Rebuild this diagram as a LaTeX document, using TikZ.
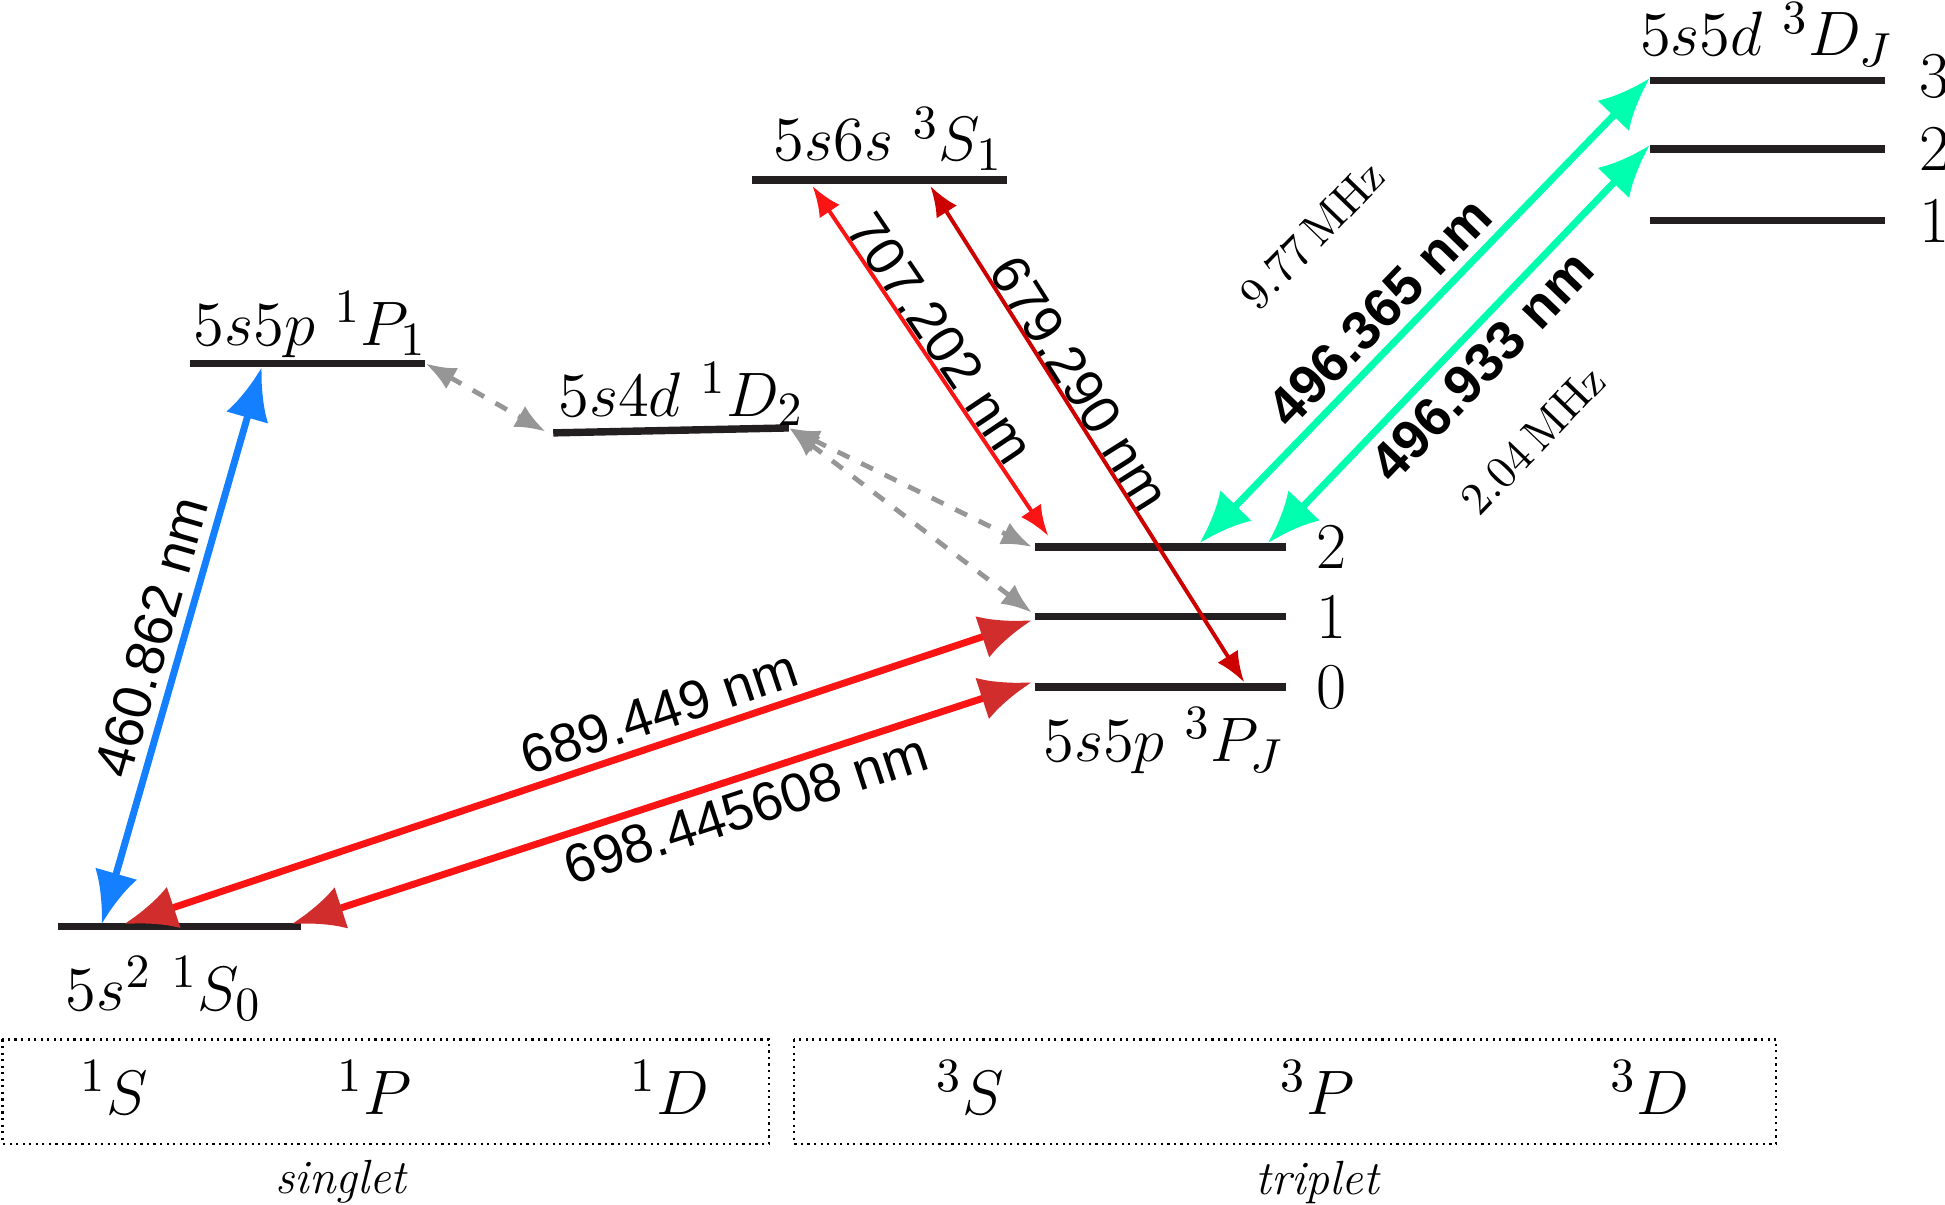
\documentclass[tikz,border=0pt]{standalone}
\usepackage{amsmath}
\usepackage{fontspec}
\newfontfamily\labelfont{Liberation Sans}
\usetikzlibrary{arrows.meta}
\definecolor{levelgray}{RGB}{35,31,32}
\definecolor{bluearrow}{RGB}{20,128,255}
\definecolor{redarrow}{RGB}{250,20,20}
\definecolor{redhead}{RGB}{210,45,45}
\definecolor{darkred}{RGB}{205,0,0}
\definecolor{greenarrow}{RGB}{0,255,175}
\definecolor{dashgray}{RGB}{150,150,150}
\tikzset{
  level/.style={draw=levelgray, line width=1.7pt},
  lvllabel/.style={font=\fontsize{15}{17}\selectfont, inner sep=1pt},
  jlabel/.style={font=\fontsize{15}{17}\selectfont, anchor=west, inner sep=1pt},
  wavelabel/.style={text=black, font=\labelfont\fontsize{12.5}{15}\selectfont, inner sep=2pt},
  boldlabel/.style={text=black, font=\labelfont\bfseries\fontsize{12.5}{15}\selectfont, inner sep=2pt},
  mhzlabel/.style={text=black, font=\fontsize{10.5}{12}\selectfont, inner sep=1pt},
  bigtip/.style={arrows={Latex[length=12pt,width=10pt]-Latex[length=12pt,width=10pt]}},
  thintip/.style={arrows={Latex[length=7pt,width=5.5pt]-Latex[length=7pt,width=5.5pt]}},
  termbox/.style={draw, densely dotted, line width=0.5pt},
}
\begin{document}
\begin{tikzpicture}[x=0.01cm, y=-0.01cm]
	\useasboundingbox (0,0) rectangle (1568,971);

	% Levels:
	\draw[level] (47,747) coordinate (S0a) -- (243,747) coordinate (S0b);
	\draw[level] (153,293) coordinate (P1a) -- (343,293) coordinate (P1b);
	\draw[level] (446,349) coordinate (D2a) -- (636,345) coordinate (D2b);
	\draw[level] (606,145) coordinate (S1a) -- (812,145) coordinate (S1b);
	\draw[level] (834,441) coordinate (P2a) -- (1037,441) coordinate (P2b);
	\draw[level] (834,497) coordinate (P1la) -- (1037,497) coordinate (P1lb);
	\draw[level] (834,554) coordinate (P0a) -- (1037,554) coordinate (P0b);
	\draw[level] (1330,65) coordinate (D3a) -- (1520,65);
	\draw[level] (1330,120) coordinate (D3b) -- (1520,120);
	\draw[level] (1330,178) -- (1520,178);

	% Level labels:
	\node[lvllabel] (nS0) at (132,797) {$5s^2\ {}^1S_0$};
	\node[lvllabel] (nP1) at (250,262) {$5s5p\ {}^1P_1$};
	\node[lvllabel] (nD2) at (549,318) {$5s4d\ {}^1D_2$};
	\node[lvllabel] (nS1) at (716,112) {$5s6s\ {}^3S_1$};
	\node[lvllabel] (nPJ) at (938,597) {$5s5p\ {}^3P_J$};
	\node[lvllabel] (nDJ) at (1424,28) {$5s5d\ {}^3D_J$};
	\node[jlabel] (j2) at (1057,441) {2};
	\node[jlabel] (j1) at (1057,497) {1};
	\node[jlabel] (j0) at (1057,554) {0};
	\node[jlabel] (k3) at (1543,62) {3};
	\node[jlabel] (k2) at (1543,120) {2};
	\node[jlabel] (k1) at (1543,178) {1};

	% Transitions:
	\draw[bigtip, bluearrow, line width=1.6pt] (82,745) -- node[wavelabel, midway, sloped, above]{460.862 nm} (211,296);
	\draw[bigtip, redarrow, line width=1.6pt, arrows={[color=redhead]}] (100,745) -- node[wavelabel, pos=0.6, sloped, above]{689.449 nm} (832,500);
	\draw[bigtip, redarrow, line width=1.6pt, arrows={[color=redhead]}] (235,745) -- node[wavelabel, pos=0.6, sloped, below]{698.445608 nm} (832,550);
	\draw[thintip, dashgray, dashed, line width=1.1pt] (343,293) -- (440,348);
	\draw[thintip, dashgray, dashed, line width=1.1pt] (636,345) -- (832,441);
	\draw[thintip, dashgray, dashed, line width=1.1pt] (636,345) -- (832,494);
	\draw[thintip, redarrow, line width=0.9pt] (655,150) -- node[wavelabel, pos=0.47, sloped, above, inner sep=0pt]{707.202 nm} (845,432);
	\draw[thintip, darkred, line width=0.9pt] (750,150) -- node[wavelabel, pos=0.42, sloped, above, inner sep=0pt]{679.290 nm} (1003,550);
	\draw[bigtip, greenarrow, line width=1.6pt] (967,438) -- node[boldlabel, pos=0.45, sloped, above]{496.365 nm} node[mhzlabel, pos=0.45, sloped, above, yshift=25pt, xshift=2pt]{9.77\,MHz} (1330,63);
	\draw[bigtip, greenarrow, line width=1.6pt] (1022,438) -- node[boldlabel, pos=0.5, sloped, below]{496.933 nm} node[mhzlabel, pos=0.5, sloped, below, yshift=-22pt, xshift=-4pt]{2.04\,MHz} (1330,117);

	% Term boxes:
	\draw[termbox] (2,838) rectangle (620,922);
	\draw[termbox] (640,838) rectangle (1432,922);
	\node[lvllabel] (tS) at (92,877) {${}^1S$};
	\node[lvllabel] (tP) at (302,877) {${}^1P$};
	\node[lvllabel] (tD) at (540,877) {${}^1D$};
	\node[lvllabel] (uS) at (782,877) {${}^3S$};
	\node[lvllabel] (uP) at (1062,877) {${}^3P$};
	\node[lvllabel] (uD) at (1330,877) {${}^3D$};
	\node[font=\itshape\fontsize{11}{13}\selectfont] (singlet) at (275,953) {singlet};
	\node[font=\itshape\fontsize{11}{13}\selectfont] (triplet) at (1062,953) {triplet};

\end{tikzpicture}
\end{document}
